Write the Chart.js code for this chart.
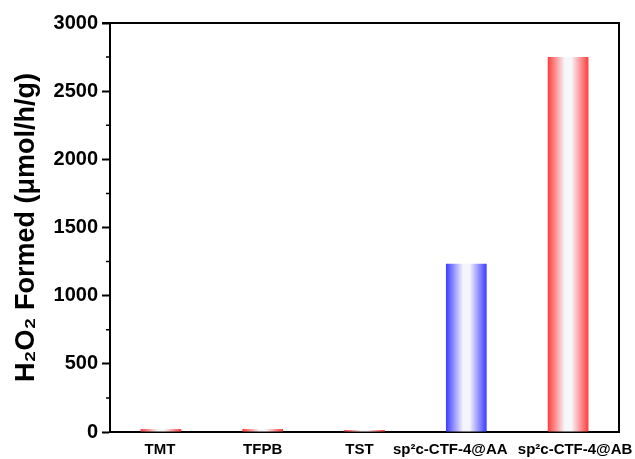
<!DOCTYPE html>
<html><head><meta charset="utf-8">
<script src="https://cdn.jsdelivr.net/npm/chart.js@4"></script>
<style>html,body{margin:0;padding:0;background:#fff}</style>
</head><body>
<canvas id="c" width="635" height="459"></canvas>
<script>
const categories = ['TMT', 'TFPB', 'TST', 'sp²c-CTF-4@AA', 'sp²c-CTF-4@AB'];
const values = [22, 22, 15, 1235, 2750];
const barHues = ['red', 'red', 'red', 'blue', 'red'];
const yMajorStep = 500;
const yMinorTicks = [250, 750, 1250, 1750, 2250, 2750];
const yTitle = 'H₂O₂ Formed (μmol/h/g)';

const edge = { red: '#ff3c3c', blue: '#3c3cff' };
const mid = { red: '#f7f7f9', blue: '#f4f4fb' };
const labelShift = [-1, 0, -5, -16, 7];
const FONT = 'Liberation Sans, Arial, sans-serif';

const gradientPlugin = {
  id: 'grad',
  beforeDatasetsDraw(chart) {
    const ctx = chart.ctx;
    chart.getDatasetMeta(0).data.forEach((el, i) => {
      const x0 = el.x - el.width / 2, x1 = el.x + el.width / 2;
      const g = ctx.createLinearGradient(x0, 0, x1, 0);
      const h = barHues[i];
      g.addColorStop(0, edge[h]);
      g.addColorStop(0.42, mid[h]);
      g.addColorStop(0.58, mid[h]);
      g.addColorStop(1, edge[h]);
      el.options = Object.assign({}, el.options, { backgroundColor: g });
    });
  }
};

const framePlugin = {
  id: 'frame',
  afterDraw(chart) {
    const { ctx, chartArea: a, scales } = chart;
    ctx.save();
    ctx.strokeStyle = '#000';
    ctx.lineWidth = 2;
    ctx.beginPath();
    ctx.moveTo(a.left - 8, a.top);
    ctx.lineTo(a.right, a.top);
    ctx.lineTo(a.right, a.bottom);
    ctx.stroke();
    ctx.lineWidth = 1.5;
    ctx.beginPath();
    yMinorTicks.forEach(v => {
      const y = scales.y.getPixelForValue(v);
      ctx.moveTo(a.left - 4, y);
      ctx.lineTo(a.left, y);
    });
    ctx.stroke();
    ctx.fillStyle = '#000';
    ctx.font = 'bold 15px ' + FONT;
    ctx.textAlign = 'center';
    ctx.textBaseline = 'middle';
    categories.forEach((c, i) => {
      const x = scales.x.getPixelForValue(i) + labelShift[i];
      ctx.fillText(c, x, a.bottom + 18);
    });
    ctx.restore();
  }
};

new Chart(document.getElementById('c'), {
  type: 'bar',
  data: {
    labels: categories,
    datasets: [{
      data: values,
      backgroundColor: barHues.map(h => edge[h]),
      borderWidth: 0,
      barPercentage: 0.4,
      categoryPercentage: 1.0
    }]
  },
  options: {
    responsive: false,
    animation: false,
    layout: { padding: { top: 23, right: 16, left: 0, bottom: 0 } },
    plugins: { legend: { display: false }, tooltip: { enabled: false } },
    scales: {
      x: {
        offset: true,
        grid: { display: false, drawTicks: false },
        border: { display: true, color: '#000', width: 2 },
        ticks: { display: false },
        afterFit(s) { s.height = 27; }
      },
      y: {
        min: 0,
        max: 3000,
        ticks: {
          stepSize: yMajorStep,
          color: '#000',
          font: { family: FONT, weight: 'bold', size: 20 },
          padding: 4,
          callback: v => String(v)
        },
        grid: { drawOnChartArea: false, drawTicks: true, tickLength: 8, tickWidth: 2, tickColor: '#000' },
        border: { display: true, color: '#000', width: 2 },
        title: {
          display: true,
          text: yTitle,
          color: '#000',
          font: { family: FONT, weight: 'bold', size: 27 },
          padding: { top: 10, bottom: 0 }
        },
        afterFit(s) { s.width = 110; }
      }
    }
  },
  plugins: [gradientPlugin, framePlugin]
});
</script>
</body></html>
